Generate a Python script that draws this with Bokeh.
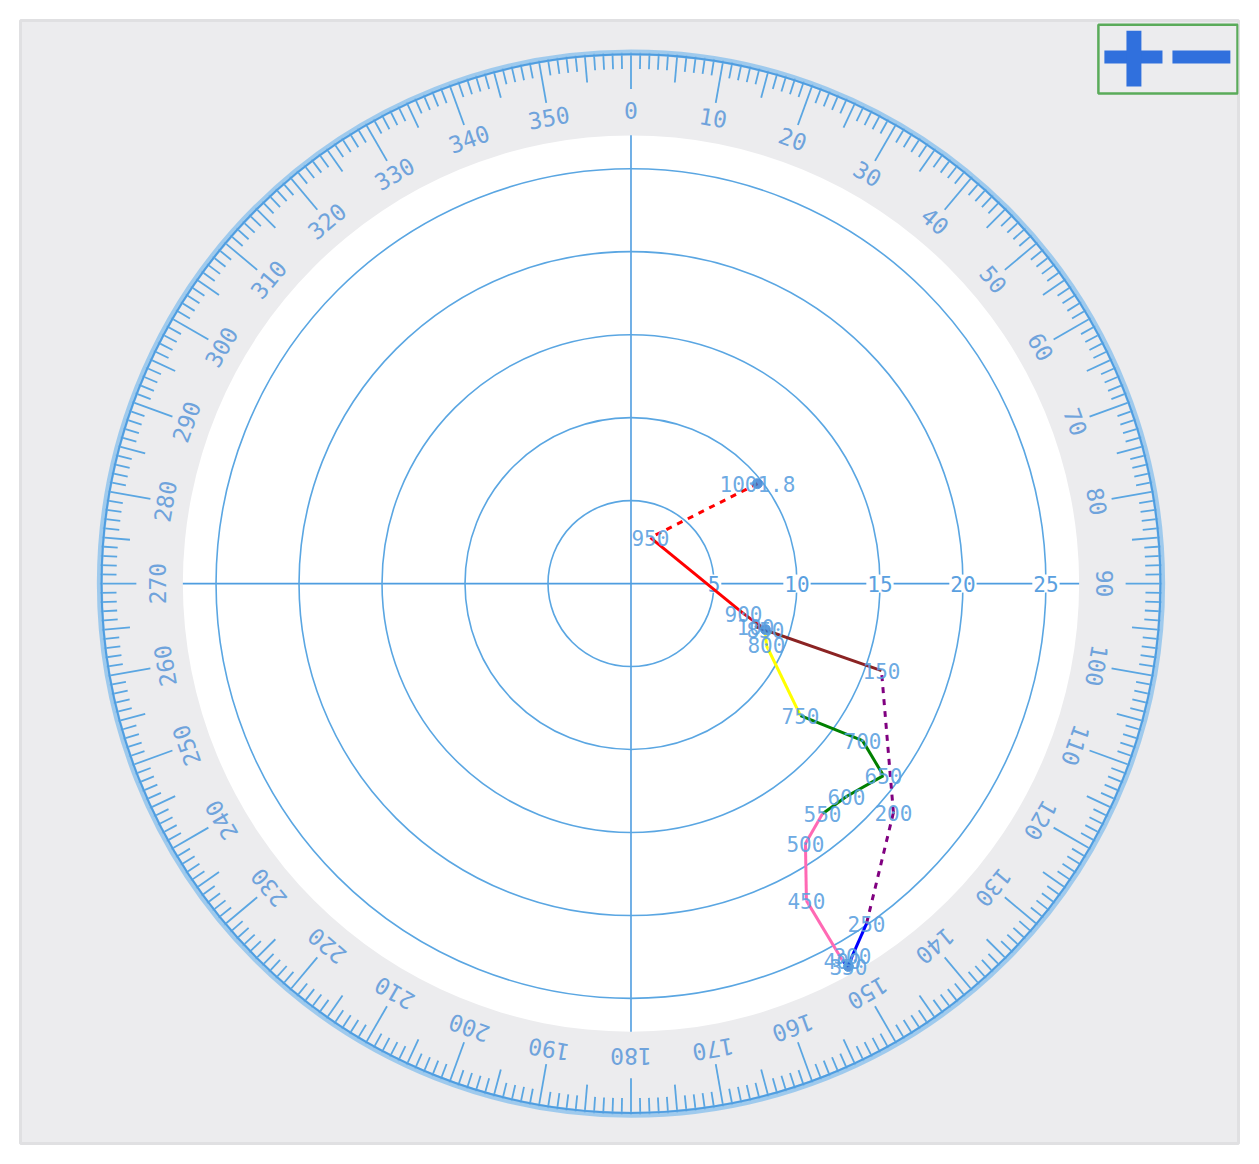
import numpy as np
from bokeh.plotting import figure
from bokeh.embed import file_html
from bokeh.resources import INLINE
from bokeh.core.properties import value

# ---- data (hodograph, wind components in m/s) ----
levels = ["1001.8", "950", "900", "850", "800", "750", "700", "650", "600",
          "550", "500", "450", "400", "350", "300", "250", "200", "150", "100"]
u_comp = [7.62, 1.17, 6.78, 8.10, 8.16, 10.21, 13.95, 15.21, 12.98,
          11.54, 10.51, 10.57, 12.74, 13.10, 13.34, 14.19, 15.81, 15.09, 7.50]
v_comp = [6.02, 2.77, -1.81, -2.77, -3.73, -7.95, -9.46, -11.57, -12.83,
          -13.86, -15.66, -19.10, -22.71, -23.07, -22.41, -20.48, -13.80, -5.24, -2.59]
# segment styling: (start index, colour, dash)
seg_from = [0, 1, 2, 3, 4, 5, 6, 7, 8, 9, 10, 11, 12, 13, 14, 15, 16, 17]
seg_color = ["#ff0000", "#ff0000", "#d01010", "#ffff00", "#ffff00", "#008000", "#008000",
             "#008000", "#008000", "#ff69b4", "#ff69b4", "#ff69b4", "#0000ff", "#0000ff",
             "#0000ff", "#800080", "#800080", "#8b2323"]
seg_dash = ["dashed", "solid", "solid", "solid", "solid", "solid", "solid", "solid", "solid",
            "solid", "solid", "solid", "solid", "solid", "solid", "dashed", "dashed", "solid"]
marker_idx = [0, 3, 13]

ring_vals = [5, 10, 15, 20, 25]
ring_labels = ["5", "10", "15", "20", "25"]
deg_ticks = list(range(0, 360))
deg_labels = list(range(0, 360, 10))

R_DISC = 27.0
R_OUT = 32.0
R_LAB = 28.5
BLUE = "#4f9de0"

p = figure(width=1248, height=1153, output_backend="svg", toolbar_location=None,
           x_range=(-36.78, 36.60), y_range=(-33.73, 33.92),
           min_border_left=20, min_border_right=10, min_border_top=20, min_border_bottom=10)
p.axis.visible = False
p.grid.visible = False
p.background_fill_color = "#ececee"
p.border_fill_color = "white"
p.outline_line_color = "#e0e0e2"
p.outline_line_width = 3

# white disc
p.circle(x=[0], y=[0], radius=R_DISC, fill_color="white", line_color=None)

# protractor ticks
deg = np.array(deg_ticks, dtype=float)
length = np.where(deg % 10 == 0, 2.6, np.where(deg % 5 == 0, 1.7, 1.0))
length = np.where(deg % 90 == 0, 2.2, length)
th = np.radians(deg)
r0 = R_OUT
r1 = R_OUT - length
p.segment(x0=r0 * np.sin(th), y0=r0 * np.cos(th), x1=r1 * np.sin(th), y1=r1 * np.cos(th),
          line_color="#5aa6e2", line_width=1.8)
p.circle(x=[0], y=[0], radius=R_OUT, fill_color=None, line_color="#8cc2ec", line_width=6, line_alpha=0.8)
p.circle(x=[0], y=[0], radius=R_OUT - 0.1, fill_color=None, line_color="#4f9de0", line_width=2)

# protractor labels
ld = np.array(deg_labels, dtype=float)
lt = np.radians(ld)
p.text(x=R_LAB * np.sin(lt), y=R_LAB * np.cos(lt), text=[str(d) for d in deg_labels],
       angle=-lt, text_align="center", text_baseline="middle",
       text_font=value("DejaVu Sans Mono"), text_font_size="23px", text_color="#6fa3dc")

# crosshair
p.line(x=[-R_DISC, R_DISC], y=[0, 0], line_color=BLUE, line_width=1.6)
p.line(x=[0, 0], y=[-R_DISC, R_DISC], line_color=BLUE, line_width=1.6)

# rings
p.circle(x=[0] * len(ring_vals), y=[0] * len(ring_vals), radius=ring_vals,
         fill_color=None, line_color="#5aa6e2", line_width=1.6)
p.text(x=ring_vals, y=[0] * len(ring_vals), text=ring_labels, text_align="center",
       text_baseline="middle", text_font=value("DejaVu Sans Mono"), text_font_size="21px",
       text_color="#5aa0e0", background_fill_color="white", padding=1)

# hodograph
for i, c, d in zip(seg_from, seg_color, seg_dash):
    p.line(x=[u_comp[i], u_comp[i + 1]], y=[v_comp[i], v_comp[i + 1]],
           line_color=c, line_width=3, line_dash=d)

p.scatter(x=[u_comp[i] for i in marker_idx], y=[v_comp[i] for i in marker_idx], size=10,
          fill_color="#2e78d0", line_color="#5aa0e0", fill_alpha=0.8)

p.text(x=u_comp, y=v_comp, text=levels, text_align="center", text_baseline="middle",
       text_font=value("DejaVu Sans Mono"), text_font_size="21px", text_color="#5aa0e0",
       text_alpha=0.9)

# zoom control (+/-)
p.quad(left=[28.16], right=[36.54], top=[33.67], bottom=[29.52], fill_color=None,
       line_color="#5aab5a", line_width=2.5)
p.quad(left=[28.52, 29.85, 32.62], right=[32.02, 30.75, 36.11],
       top=[32.11, 33.31, 32.11], bottom=[31.33, 29.94, 31.33],
       fill_color="#3070dd", line_color=None)

open("out.html", "w").write(file_html(p, INLINE))
